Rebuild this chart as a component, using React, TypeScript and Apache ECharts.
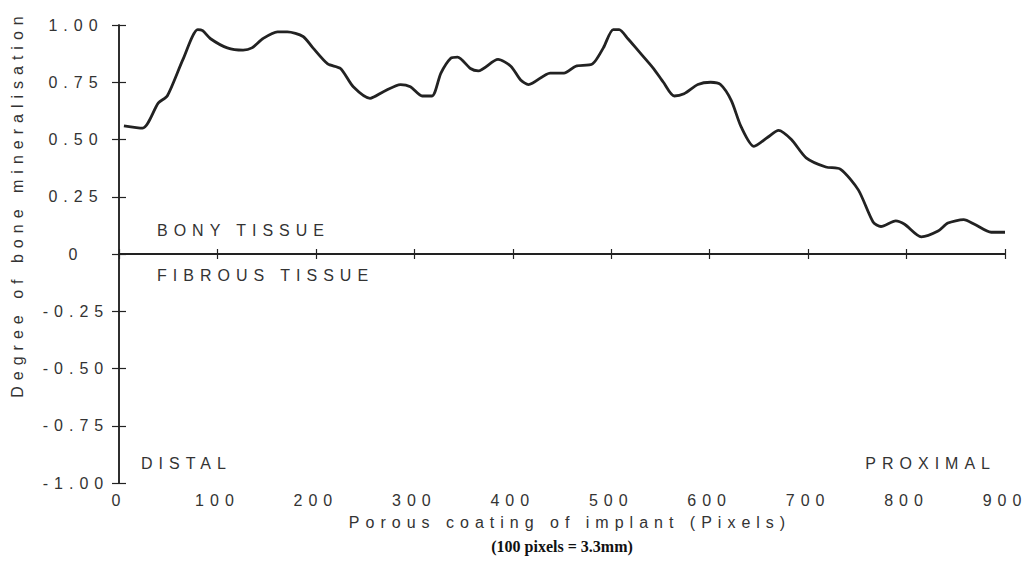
import React, { useEffect, useRef } from "react";
import * as echarts from "echarts";

// Curve: position along the coating (pixels) and degree of mineralisation
const positions = [5, 24, 40, 49, 65, 80, 85, 93, 110, 126, 135, 146, 161, 171, 187, 197, 212, 225, 238, 255, 269, 286, 296, 308, 318, 327, 337, 344, 357, 365, 385, 398, 408, 416, 438, 452, 464, 481, 492, 502, 508, 517, 527, 543, 553, 564, 574, 588, 601, 611, 622, 632, 645, 659, 670, 683, 698, 718, 733, 751, 766, 774, 789, 798, 815, 832, 842, 858, 869, 886, 900];
const mineralisation = [0.56, 0.55, 0.66, 0.69, 0.85, 0.98, 0.975, 0.94, 0.9, 0.89, 0.9, 0.94, 0.97, 0.97, 0.95, 0.9, 0.83, 0.81, 0.73, 0.68, 0.71, 0.74, 0.73, 0.69, 0.69, 0.79, 0.855, 0.86, 0.81, 0.8, 0.85, 0.82, 0.76, 0.74, 0.79, 0.79, 0.82, 0.83, 0.9, 0.98, 0.98, 0.94, 0.89, 0.81, 0.75, 0.69, 0.7, 0.74, 0.75, 0.74, 0.67, 0.555, 0.47, 0.51, 0.54, 0.5, 0.42, 0.38, 0.37, 0.28, 0.14, 0.12, 0.145, 0.13, 0.075, 0.1, 0.135, 0.15, 0.13, 0.095, 0.095];

const xTitle = "Porous coating of implant (Pixels)";
const xSubtitle = "(100 pixels = 3.3mm)";
const yTitle = "Degree of bone mineralisation";
const regionLabels = ["BONY TISSUE", "FIBROUS TISSUE", "DISTAL", "PROXIMAL"];

const SANS = "Liberation Sans";
const TXT = "#333";
const INK = "#222";

export default function App() {
  const ref = useRef<HTMLDivElement>(null);
  useEffect(() => {
    if (!ref.current) return;
    const chart = echarts.init(ref.current, null, { renderer: "svg" });
    const data = positions.map((p, i) => [p, mineralisation[i]]);
    const axisLine = { show: true, lineStyle: { color: INK, width: 1.5 } };
    const yFmt = (v: number) => (Math.abs(v) < 1e-9 ? "0" : v.toFixed(2));
    chart.setOption({
      animation: false,
      backgroundColor: "#fff",
      grid: { left: 119, right: 21, top: 25, bottom: 78 },
      xAxis: [
        {
          type: "value", min: 0, max: 900, interval: 100, position: "bottom",
          axisLine, splitLine: { show: false },
          axisTick: { inside: true, length: 5, lineStyle: { color: INK, width: 1.2 } },
          axisLabel: { margin: 9, fontSize: 16, color: TXT, fontFamily: SANS },
        },
        {
          type: "value", min: 0, max: 900, interval: 100, position: "top",
          axisLine, splitLine: { show: false },
          axisTick: { inside: true, length: 5, lineStyle: { color: INK, width: 1.2 } },
          axisLabel: { show: false },
        },
      ],
      yAxis: [
        {
          type: "value", min: -1, max: 1, interval: 0.25, position: "left",
          axisLine, splitLine: { show: false },
          axisTick: { inside: true, length: 7, lineStyle: { color: INK, width: 1.2 } },
          axisLabel: { margin: 43, align: "center", fontSize: 16, color: TXT, fontFamily: SANS, formatter: yFmt },
        },
        {
          type: "value", min: -1, max: 1, interval: 0.25, position: "right",
          axisLine, splitLine: { show: false },
          axisTick: { inside: true, length: 7, lineStyle: { color: INK, width: 1.2 } },
          axisLabel: { show: false },
        },
      ],
      series: [
        {
          type: "line",
          data,
          smooth: 0.25,
          showSymbol: false,
          lineStyle: { color: INK, width: 2.8 },
          markLine: {
            silent: true,
            symbol: "none",
            label: { show: false },
            lineStyle: { color: INK, width: 2, type: "solid" },
            data: [{ yAxis: 0 }],
          },
        },
      ],
      graphic: [
        { type: "text", x: 157, y: 230, style: { text: regionLabels[0], fontSize: 16, fontFamily: SANS, fill: TXT, align: "left", verticalAlign: "middle" } },
        { type: "text", x: 157, y: 275, style: { text: regionLabels[1], fontSize: 16, fontFamily: SANS, fill: TXT, align: "left", verticalAlign: "middle" } },
        { type: "text", x: 141, y: 463, style: { text: regionLabels[2], fontSize: 16, fontFamily: SANS, fill: TXT, align: "left", verticalAlign: "middle" } },
        { type: "text", x: 996, y: 463, style: { text: regionLabels[3], fontSize: 16, fontFamily: SANS, fill: TXT, align: "right", verticalAlign: "middle" } },
        { type: "text", x: 570, y: 522, style: { text: xTitle, fontSize: 16, fontFamily: SANS, fill: TXT, align: "center", verticalAlign: "middle" } },
        { type: "text", x: 562, y: 546, style: { text: xSubtitle, fontSize: 16, fontWeight: "bold", fontFamily: "Liberation Serif", fill: "#111", align: "center", verticalAlign: "middle" } },
        { type: "text", x: 17, y: 204, rotation: Math.PI / 2, style: { text: yTitle, fontSize: 16, fontFamily: SANS, fill: TXT, align: "center", verticalAlign: "middle" } },
      ],
    });
    return () => chart.dispose();
  }, []);
  return (
    <>
      <style>{`#chart-box text { letter-spacing: 6px; } #chart-box text[style*="Serif"] { letter-spacing: 0; }`}</style>
      <div id="chart-box" ref={ref} style={{ position: "fixed", left: 0, top: 0, width: 1026, height: 561 }} />
    </>
  );
}
